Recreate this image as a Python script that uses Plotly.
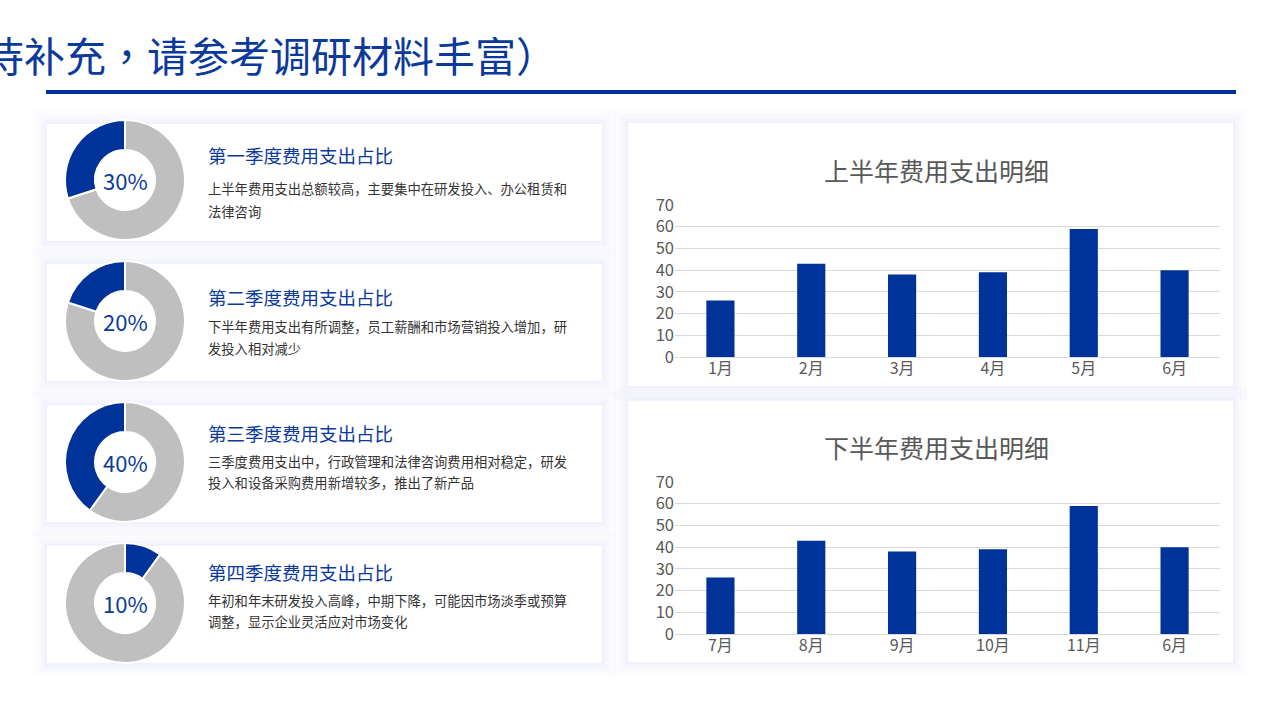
import plotly.graph_objects as go

W, H = 1280, 719

# ---------------- data ----------------
header_text = "待补充，请参考调研材料丰富）"

quarter_titles = ["第一季度费用支出占比", "第二季度费用支出占比",
                  "第三季度费用支出占比", "第四季度费用支出占比"]
quarter_share = [30, 20, 40, 10]
# which side of 12 o'clock the highlighted share sits on
quarter_side = ["left", "left", "left", "right"]
quarter_desc = [
    ["上半年费用支出总额较高，主要集中在研发投入、办公租赁和", "法律咨询"],
    ["下半年费用支出有所调整，员工薪酬和市场营销投入增加，研", "发投入相对减少"],
    ["三季度费用支出中，行政管理和法律咨询费用相对稳定，研发", "投入和设备采购费用新增较多，推出了新产品"],
    ["年初和年末研发投入高峰，中期下降，可能因市场淡季或预算", "调整，显示企业灵活应对市场变化"],
]

chart_titles = ["上半年费用支出明细", "下半年费用支出明细"]
h1_months = ["1月", "2月", "3月", "4月", "5月", "6月"]
h1_values = [26, 43, 38, 39, 59, 40]
h2_months = ["7月", "8月", "9月", "10月", "11月", "6月"]
h2_values = [26, 43, 38, 39, 59, 40]

# ---------------- style ----------------
BLUE = "#003399"
TXT_BLUE = "#0b3a9c"
GRAY = "#bfbfbf"
FONT = "Noto Sans CJK SC"


def X(px):
    return px / W


def Y(py):
    return 1 - py / H


fig = go.Figure()
shapes = []
annotations = []


def card(x0, y0, x1, y1):
    for pad, a in [(14, 0.12), (9, 0.15), (5, 0.2), (2, 0.25)]:
        shapes.append(dict(type="rect", xref="paper", yref="paper", layer="below",
                           x0=X(x0 - pad), x1=X(x1 + pad), y0=Y(y1 + pad), y1=Y(y0 - pad),
                           line=dict(width=0), fillcolor=f"rgba(228,232,250,{a})"))
    shapes.append(dict(type="rect", xref="paper", yref="paper", layer="below",
                       x0=X(x0), x1=X(x1), y0=Y(y1), y1=Y(y0),
                       line=dict(width=0), fillcolor="white"))


# header
annotations.append(dict(text=header_text, xref="paper", yref="paper",
                        x=X(-19), y=Y(54), xanchor="left", yanchor="middle",
                        showarrow=False,
                        font=dict(family="Noto Sans CJK TC", size=41, color=TXT_BLUE)))
shapes.append(dict(type="line", xref="paper", yref="paper", x0=X(46), x1=X(1236),
                   y0=Y(92), y1=Y(92), line=dict(color=BLUE, width=4)))

# left cards with donuts
card_tops = [124, 264, 405, 546]
donut_cy = [180, 321, 462, 603]
title_y = [155, 297, 433, 572]
desc_y = [(189, 211), (327, 348), (461, 482), (600, 621)]
R = 60
CX = 125
for i in range(4):
    card(47, card_tops[i], 602, card_tops[i] + 117)
    cy = donut_cy[i]
    s = quarter_share[i]
    if quarter_side[i] == "left":
        vals, cols = [100 - s, s], [GRAY, BLUE]
    else:
        vals, cols = [s, 100 - s], [BLUE, GRAY]
    fig.add_trace(go.Pie(
        values=vals,
        marker=dict(colors=cols, line=dict(color="white", width=2)),
        hole=0.5, sort=False, direction="clockwise", rotation=0,
        textinfo="none", hoverinfo="skip", showlegend=False,
        domain=dict(x=[X(CX - R), X(CX + R)], y=[Y(cy + R), Y(cy - R)]),
    ))
    annotations.append(dict(text=f"{s}%", xref="paper", yref="paper",
                            x=X(CX), y=Y(cy), xanchor="center", yanchor="middle",
                            showarrow=False, font=dict(family=FONT, size=22, color=TXT_BLUE)))
    annotations.append(dict(text=quarter_titles[i], xref="paper", yref="paper",
                            x=X(206), y=Y(title_y[i]), xanchor="left", yanchor="middle",
                            showarrow=False, font=dict(family=FONT, size=18.5, color=TXT_BLUE)))
    for line, ly in zip(quarter_desc[i], desc_y[i]):
        annotations.append(dict(text=line, xref="paper", yref="paper",
                                x=X(206), y=Y(ly), xanchor="left", yanchor="middle",
                                showarrow=False, font=dict(family=FONT, size=13.3, color="#333333")))

# right bar charts
card(628, 123, 1233, 386)
card(628, 401, 1233, 662)

charts = [
    dict(months=h1_months, values=h1_values, top=205, bottom=357, title_y=170, xa="x", ya="y"),
    dict(months=h2_months, values=h2_values, top=482, bottom=634, title_y=447, xa="x2", ya="y2"),
]
layout_axes = {}
for k, c in enumerate(charts):
    fig.add_trace(go.Bar(x=list(range(len(c["months"]))), y=c["values"],
                         marker=dict(color=BLUE, line=dict(width=0)),
                         xaxis=c["xa"], yaxis=c["ya"], hoverinfo="skip", showlegend=False))
    xname = "xaxis" if k == 0 else "xaxis2"
    yname = "yaxis" if k == 0 else "yaxis2"
    layout_axes[xname] = dict(domain=[X(675), X(1220)], range=[-0.5, len(c["months"]) - 0.5],
                              tickvals=list(range(len(c["months"]))), ticktext=c["months"],
                              showgrid=False, zeroline=False, showline=False, ticks="",
                              tickfont=dict(family=FONT, size=16, color="#595959"),
                              anchor=c["ya"], fixedrange=True, automargin=False)
    layout_axes[yname] = dict(domain=[Y(c["bottom"]), Y(c["top"])], range=[0, 70], dtick=10,
                              showgrid=True, gridcolor="#d9d9d9", gridwidth=1,
                              zeroline=True, zerolinecolor="#d9d9d9", zerolinewidth=1,
                              showline=False, ticks="",
                              tickfont=dict(family=FONT, size=16.5, color="#595959"),
                              anchor=c["xa"], fixedrange=True, automargin=False)
    annotations.append(dict(text=chart_titles[k], xref="paper", yref="paper",
                            x=X(936), y=Y(c["title_y"]), xanchor="center", yanchor="middle",
                            showarrow=False, font=dict(family=FONT, size=25, color="#595959")))

fig.update_layout(
    width=W, height=H, margin=dict(l=0, r=0, t=0, b=0, pad=0, autoexpand=False),
    paper_bgcolor="white", plot_bgcolor="rgba(0,0,0,0)",
    bargap=0.69, showlegend=False,
    shapes=shapes, annotations=annotations,
    **layout_axes,
)

fig.write_html("out.html", config={"displayModeBar": False},
               post_script="document.body.style.margin='0';document.body.style.overflow='hidden';")
